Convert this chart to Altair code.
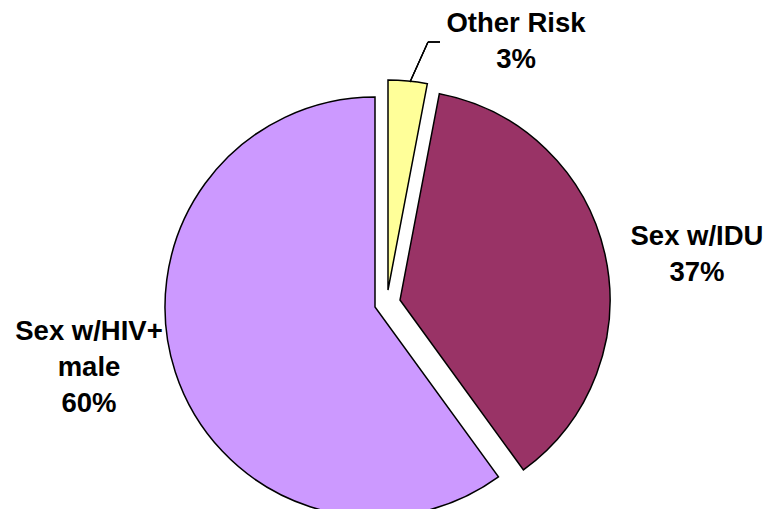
import altair as alt
import pandas as pd

# ---- data ----
categories = ["Other Risk", "Sex w/IDU", "Sex w/HIV+ male"]
label_names = ["Other Risk", "Sex w/IDU", "Sex w/HIV+\nmale"]
shares = [3, 37, 60]
order = [1, 2, 3]

# ---- styles / layout ----
colors = ["#FFFF99", "#993366", "#CC99FF"]
W, H = 756, 501
CX, CY = 367, 299          # pie centre (plot coords)
R = 210
explode = [(13, -17), (25, -7), (0, 0)]     # per-slice pixel offsets
label_pos = [(508, 16), (689, 229), (81, 324)]   # first-line centres
FONT = "Liberation Sans"

df = pd.DataFrame({"category": categories, "name": label_names,
                   "share": shares, "order": order})

base = (
    alt.Chart(df)
    .transform_window(end="sum(share)", sort=[alt.SortField("order")], frame=[None, 0])
    .transform_calculate(start="datum.end - datum.share",
                         label="datum.name + '\\n' + datum.share + '%'")
)

layers = []
for i, cat in enumerate(categories):
    ox, oy = explode[i]
    arc = (
        base.transform_filter(alt.datum.category == cat)
        .mark_arc(outerRadius=R, x=CX + ox, y=CY + oy, fill=colors[i],
                  stroke="black", strokeWidth=1.5, strokeJoin="miter")
        .encode(theta=alt.Theta("start:Q", scale=alt.Scale(domain=[0, 100])),
                theta2="end:Q")
    )
    layers.append(arc)

for i, cat in enumerate(categories):
    lx, ly = label_pos[i]
    txt = (
        base.transform_filter(alt.datum.category == cat)
        .mark_text(x=lx, y=ly, font=FONT, fontSize=27.5, fontWeight="bold",
                   align="center", baseline="middle", lineBreak="\n",
                   lineHeight=36, color="black")
        .encode(text="label:N")
    )
    layers.append(txt)

# leader line for "Other Risk"
lead1 = alt.Chart(df).mark_rule(color="black", strokeWidth=1.2).encode(
    x=alt.value(432), x2=alt.value(420), y=alt.value(34), y2=alt.value(34))
lead2 = alt.Chart(df).mark_rule(color="black", strokeWidth=1.2).encode(
    x=alt.value(420), x2=alt.value(402), y=alt.value(34), y2=alt.value(74))
layers += [lead1, lead2]

chart = (
    alt.layer(*layers)
    .properties(width=W, height=H, padding=0,
                autosize=alt.AutoSizeParams(type="none"))
    .configure_view(stroke=None)
)

chart.save("out.html", embed_options={"renderer": "svg", "actions": False})
